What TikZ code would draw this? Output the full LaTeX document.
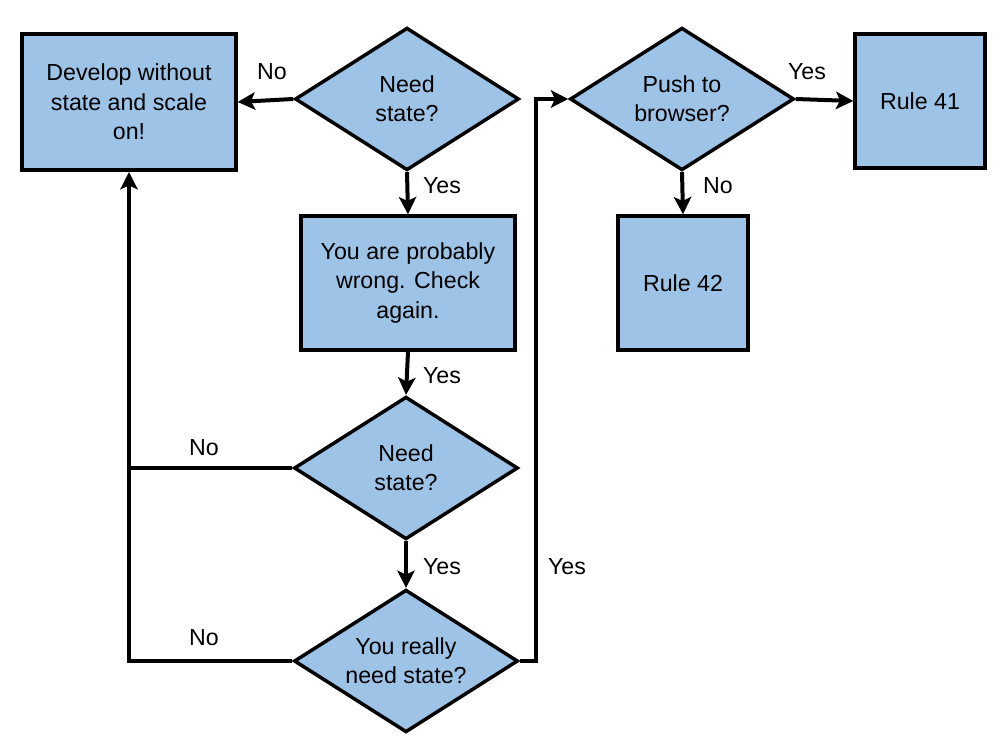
\documentclass[tikz,border=0pt]{standalone}
\usepackage{fontspec}
\setmainfont{Liberation Sans}
\usetikzlibrary{shapes.geometric,arrows.meta}
\definecolor{boxblue}{RGB}{157,195,230}

\begin{document}
\begin{tikzpicture}[x=0.75pt, y=-0.75pt,
  every node/.style={font=\fontsize{17.4}{22}\selectfont, align=center},
  stepbox/.style={draw, line width=3pt, fill=boxblue, inner sep=0pt},
  choice/.style={draw, diamond, aspect=1.58, line width=2.6pt, fill=boxblue, inner sep=0pt,
    minimum width=168pt, minimum height=107pt},
  arr/.style={line width=3pt, -{Stealth[length=13pt,width=13pt,inset=3pt]}},
  lne/.style={line width=3pt}]
\useasboundingbox (0,0) rectangle (1006,745);
\node[stepbox, minimum width=160pt, minimum height=102pt] (dev) at (129,102) {Develop without\\state and scale\\on!};
\node[choice] (need1) at (407,99) {Need\\state?};
\node[stepbox, minimum width=160pt, minimum height=100pt] (wrong) at (408,283) {You are probably\\wrong. Check\\again.};
\node[choice] (need2) at (406,468) {Need\\state?};
\node[choice] (really) at (406,661) {You really\\need state?};
\node[choice] (push) at (682,99) {Push to\\browser?};
\node[stepbox, minimum width=97pt, minimum height=100pt] (r41) at (920,101) {Rule 41};
\node[stepbox, minimum width=97pt, minimum height=100pt] (r42) at (683,283) {Rule 42};
\coordinate (back) at (129,661);
\coordinate (bend) at (536,661);
\draw[arr] (need1.west) -- (dev.east);
\draw[arr] (need1.south) -- (wrong.north);
\draw[arr] (wrong.south) -- (need2.north);
\draw[arr] (need2.south) -- (really.north);
\draw[arr] (really.west) -- (back) -- (dev.south);
\draw[lne] (need2.west) -- (need2.west -| back);
\draw[arr] (really.east) -- (bend) |- (push.west);
\draw[arr] (push.east) -- (r41.west);
\draw[arr] (push.south) -- (r42.north);
\node (no1) at (272,72) {No};
\node (yes1) at (442,186) {Yes};
\node (yes2) at (442,376) {Yes};
\node (no2) at (204,448) {No};
\node (yes3) at (442,567) {Yes};
\node (no3) at (204,638) {No};
\node (yes4) at (567,567) {Yes};
\node (yes5) at (807,72) {Yes};
\node (no4) at (718,186) {No};
\end{tikzpicture}
\end{document}
